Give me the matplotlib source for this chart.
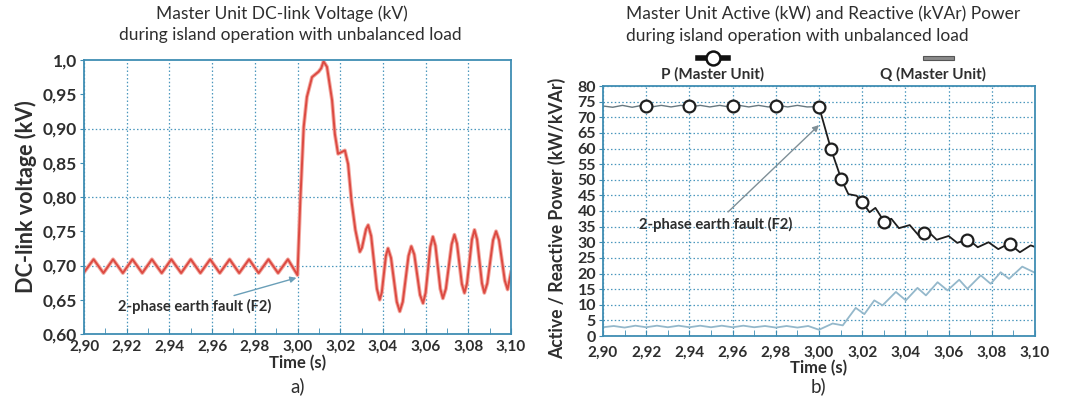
import matplotlib
matplotlib.use("Agg")
import matplotlib.pyplot as plt
from matplotlib.lines import Line2D
from matplotlib.patches import Rectangle
from matplotlib.ticker import MultipleLocator

# =========================
# 1. Data
# =========================

# left: DC-link voltage (kV)
v_time = [2.9000, 2.9045, 2.9091, 2.9136, 2.9182, 2.9227, 2.9273, 2.9318, 2.9364,
          2.9409, 2.9455, 2.9500, 2.9545, 2.9591, 2.9636, 2.9682, 2.9727, 2.9773,
          2.9818, 2.9864, 2.9909, 2.9955, 3.0000,
          3.0013, 3.0029, 3.0044, 3.0068, 3.0099, 3.0111, 3.0122, 3.0138, 3.0162,
          3.0175, 3.0190, 3.0222, 3.0237, 3.0253, 3.0271, 3.0292, 3.0302, 3.0321,
          3.0331, 3.0345, 3.0372, 3.0385, 3.0395, 3.0414, 3.0424, 3.0438, 3.0465,
          3.0479, 3.0493, 3.0520, 3.0533, 3.0547, 3.0574, 3.0588, 3.0600, 3.0622,
          3.0634, 3.0646, 3.0669, 3.0681, 3.0695, 3.0722, 3.0735, 3.0747, 3.0770,
          3.0782, 3.0794, 3.0817, 3.0829, 3.0841, 3.0864, 3.0875, 3.0889, 3.0916,
          3.0930, 3.0944, 3.0971, 3.0984, 3.1000]
v_vals = [0.690, 0.709, 0.689, 0.709, 0.689, 0.709, 0.689, 0.709, 0.689, 0.709,
          0.689, 0.709, 0.689, 0.709, 0.689, 0.709, 0.689, 0.709, 0.689, 0.709,
          0.689, 0.709, 0.686,
          0.794, 0.902, 0.946, 0.975, 0.983, 0.988, 0.998, 0.990, 0.941, 0.892,
          0.863, 0.868, 0.848, 0.794, 0.752, 0.720, 0.726, 0.753,
          0.759, 0.743, 0.666, 0.650, 0.661, 0.714, 0.725, 0.711, 0.647,
          0.633, 0.647, 0.714, 0.728, 0.716, 0.657, 0.645, 0.660, 0.727,
          0.742, 0.729, 0.666, 0.652, 0.666, 0.731, 0.745, 0.732, 0.673,
          0.660, 0.674, 0.738, 0.752, 0.738, 0.674, 0.660, 0.674, 0.737,
          0.750, 0.737, 0.678, 0.665, 0.690]

# right: active power P (kW), before and after the fault
p_time_pre = [2.900, 2.9045, 2.909, 2.9135, 2.918, 2.9225, 2.927, 2.9315, 2.936,
              2.9405, 2.945, 2.9495, 2.954, 2.9585, 2.963, 2.9675, 2.972, 2.9765,
              2.981, 2.9855, 2.990, 2.9945, 3.000]
p_vals_pre = [73.6, 73.2, 73.8, 73.2, 73.8, 73.3, 73.8, 73.3, 73.8, 73.3, 73.8,
              73.3, 73.8, 73.3, 73.8, 73.3, 73.8, 73.3, 73.8, 73.3, 73.8, 73.3, 73.4]
p_time_post = [3.000, 3.0055, 3.0103, 3.0136, 3.0174, 3.0201, 3.0234, 3.0261,
               3.0300, 3.0335, 3.0370, 3.0420, 3.0460, 3.0500, 3.0545, 3.0600,
               3.0640, 3.0690, 3.0735, 3.0785, 3.0830, 3.0880, 3.0930, 3.0980,
               3.1000]
p_vals_post = [73.4, 59.9, 50.2, 45.4, 44.9, 42.8, 39.6, 41.0, 36.8, 37.5, 34.5,
               35.5, 32.3, 33.8, 30.8, 32.0, 29.8, 31.0, 28.4, 30.0, 27.8, 29.6,
               26.8, 29.0, 28.5]
p_mark_t = [2.92, 2.94, 2.96, 2.98, 3.00, 3.0055, 3.0103, 3.0201, 3.0302, 3.0486,
            3.0684, 3.0886]
p_mark_v = [73.5, 73.5, 73.5, 73.5, 73.4, 59.9, 50.2, 42.8, 36.6, 33.0, 30.7, 29.3]

# right: reactive power Q (kVAr)
q_time = [2.900, 2.905, 2.910, 2.915, 2.920, 2.925, 2.930, 2.935, 2.940, 2.945,
          2.950, 2.955, 2.960, 2.965, 2.970, 2.975, 2.980, 2.985, 2.990, 2.995,
          3.000, 3.0063, 3.0110, 3.0170, 3.0210, 3.0256, 3.0294, 3.0356, 3.0402,
          3.0456, 3.0495, 3.0549, 3.0595, 3.0649, 3.0687, 3.0749, 3.0795, 3.0841,
          3.0880, 3.0941, 3.0995, 3.1000]
q_vals = [2.8, 3.2, 2.7, 3.3, 2.8, 3.3, 2.8, 3.3, 2.8, 3.3, 2.8, 3.3, 2.8, 3.3,
          2.8, 3.2, 2.7, 3.2, 2.7, 3.2, 2.0, 4.0, 3.4, 9.0, 7.0, 11.4, 9.8, 14.1,
          11.4, 15.4, 13.0, 17.2, 14.6, 18.0, 15.1, 19.4, 16.7, 20.4, 18.3, 22.2,
          20.4, 20.2]

x_ticks = [2.90, 2.92, 2.94, 2.96, 2.98, 3.00, 3.02, 3.04, 3.06, 3.08, 3.10]
x_labels = ["2,90", "2,92", "2,94", "2,96", "2,98", "3,00", "3,02", "3,04",
            "3,06", "3,08", "3,10"]
v_ticks = [0.60, 0.65, 0.70, 0.75, 0.80, 0.85, 0.90, 0.95, 1.00]
v_labels = ["0,60", "0,65", "0,70", "0,75", "0,80", "0,85", "0,90", "0,95", "1,0"]
p_ticks = list(range(0, 85, 5))

# =========================
# 2. Style
# =========================

plt.rcParams["font.family"] = ["Lato", "DejaVu Sans"]
SPINE = "#3f8db3"
GRID = "#4a97bd"
TXT = "#2e2e2e"
DOT = (0, (1.2, 1.8))

W, H = 1069, 398


def box(x0, y0, x1, y1):
    # pixel box -> figure fraction
    return [x0 / W, 1 - y1 / H, (x1 - x0) / W, (y1 - y0) / H]


def style_axes(ax, pad):
    for s in ax.spines.values():
        s.set_color(SPINE)
        s.set_linewidth(1.3)
    ax.set_xlim(2.90, 3.10)
    ax.set_xticks(x_ticks)
    ax.set_xticklabels(x_labels, fontweight="bold", fontsize=11, color=TXT)
    ax.xaxis.set_minor_locator(MultipleLocator(0.01))
    ax.tick_params(axis="x", which="both", direction="in", length=4,
                   color=SPINE, pad=pad)
    ax.tick_params(axis="y", direction="out", length=3, color=SPINE, pad=2)
    ax.grid(axis="x", which="major", linestyle=DOT, color=GRID, linewidth=0.9)


fig = plt.figure(figsize=(W / 100, H / 100), dpi=100)

# =========================
# 3. Left: DC-link voltage
# =========================

ax1 = fig.add_axes(box(84, 60, 511, 334))
style_axes(ax1, 4)
ax1.set_ylim(0.60, 1.00)
ax1.set_yticks(v_ticks)
ax1.set_yticklabels(v_labels, fontweight="bold", fontsize=12.5, color=TXT)
for g in [0.70, 0.80, 0.90]:
    ax1.axhline(g, linestyle=DOT, color=GRID, linewidth=0.9, zorder=0)

ax1.plot(v_time, v_vals, color="#f3aaa2", linewidth=2.8, solid_joinstyle="round")
ax1.plot(v_time, v_vals, color="#dc4a42", linewidth=1.4, solid_joinstyle="round")

ax1.set_ylabel("DC-link voltage (kV)", fontsize=15.5, fontweight="bold",
               color=TXT, labelpad=4)
ax1.set_xlabel("Time (s)", fontsize=12, fontweight="bold", color=TXT,
               labelpad=1)
fig.text(282 / W, 1 - 14 / H, "Master Unit DC-link Voltage (kV)",
         ha="center", va="center", fontsize=12.5, color=TXT)
fig.text(290 / W, 1 - 35 / H, "during island operation with unbalanced load",
         ha="center", va="center", fontsize=12.5, color=TXT)
ax1.annotate("2-phase earth fault (F2)", xy=(2.9995, 0.682), xytext=(2.952, 0.640),
             ha="center", va="center", fontsize=10.6, fontweight="bold", color=TXT,
             arrowprops=dict(arrowstyle="-|>", color="#6a9fb8", lw=1.0,
                             shrinkA=2, shrinkB=0, mutation_scale=9))
fig.text(298 / W, 1 - 386 / H, "a)", ha="center", va="center", fontsize=13.5,
         color=TXT)

# =========================
# 4. Right: active / reactive power
# =========================

ax2 = fig.add_axes(box(603, 86, 1035, 336))
style_axes(ax2, 7)
ax2.set_ylim(0, 80)
ax2.set_yticks(p_ticks)
ax2.set_yticklabels([str(t) for t in p_ticks], fontweight="bold", fontsize=11.5,
                    color=TXT)
ax2.grid(axis="y", linestyle=DOT, color=GRID, linewidth=0.9)

ax2.plot(q_time, q_vals, color="#94b8cb", linewidth=1.3)
ax2.plot(p_time_pre, p_vals_pre, color="#66777f", linewidth=1.0)
ax2.plot(p_time_post, p_vals_post, color="#1e1e1e", linewidth=1.3)
ax2.plot(p_mark_t, p_mark_v, linestyle="none", marker="o", markersize=8.5,
         markerfacecolor="white", markeredgecolor="#1e1e1e", markeredgewidth=1.6)

ax2.set_ylabel("Active / Reactive Power (kW/kVAr)", fontsize=12.7,
               fontweight="bold", color=TXT, labelpad=3)
ax2.yaxis.set_label_coords(-0.085, 0.47)
ax2.set_xlabel("Time (s)", fontsize=12, fontweight="bold", color=TXT,
               labelpad=0)
ax2.annotate("2-phase earth fault (F2)", xy=(3.0000, 67.5), xytext=(2.952, 35.8),
             ha="center", va="center", fontsize=10.6, fontweight="bold", color=TXT,
             arrowprops=dict(arrowstyle="-|>", color="#7f8f97", lw=1.0,
                             shrinkA=2, shrinkB=0, mutation_scale=9))
fig.text(626 / W, 1 - 14 / H, "Master Unit Active (kW) and Reactive (kVAr) Power",
         ha="left", va="center", fontsize=12.5, color=TXT)
fig.text(626 / W, 1 - 36 / H, "during island operation with unbalanced load",
         ha="left", va="center", fontsize=12.5, color=TXT)
fig.text(818 / W, 1 - 386 / H, "b)", ha="center", va="center", fontsize=13.5,
         color=TXT)

# legend drawn above the axes
fig.add_artist(Line2D([698 / W, 728 / W], [1 - 58 / H, 1 - 58 / H],
                      color="#111111", linewidth=4))
fig.add_artist(Line2D([713 / W], [1 - 58 / H], marker="o", markersize=10,
                      markerfacecolor="white", markeredgecolor="#111111",
                      markeredgewidth=1.8, linestyle="none"))
fig.text(713 / W, 1 - 74 / H, "P (Master Unit)", ha="center", va="center",
         fontsize=11, fontweight="bold", color=TXT)
fig.add_artist(Rectangle((923 / W, 1 - 60 / H), 31 / W, 4 / H, facecolor="#8a8a8a",
                         edgecolor="#555555", linewidth=0.8,
                         transform=fig.transFigure))
fig.text(933 / W, 1 - 74 / H, "Q (Master Unit)", ha="center", va="center",
         fontsize=11, fontweight="bold", color=TXT)

fig.savefig("out.png", dpi=100)
